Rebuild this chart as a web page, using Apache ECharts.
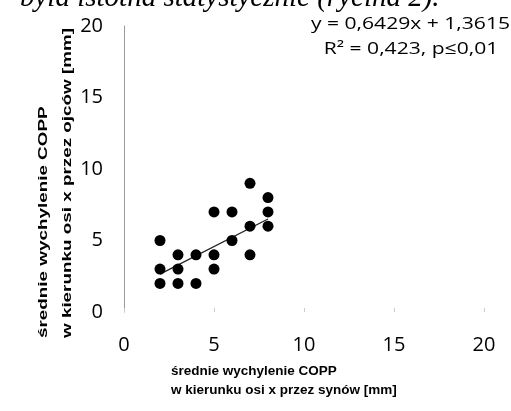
<!DOCTYPE html>
<html><head><meta charset="utf-8">
<script src="https://cdn.jsdelivr.net/npm/echarts@6/dist/echarts.min.js"></script>
<style>html,body{margin:0;padding:0;background:#fff}#c{width:511px;height:411px}</style>
</head><body><div id="c"></div>
<script>
const xTicks = [0, 5, 10, 15, 20];
const yTicks = [0, 5, 10, 15, 20];
const sonsX = [2, 2, 2, 3, 3, 3, 4, 4, 5, 5, 5, 6, 6, 7, 7, 7, 8, 8, 8];
const fathersY = [5, 3, 2, 4, 3, 2, 4, 2, 7, 4, 3, 7, 5, 9, 6, 4, 8, 7, 6];
const slope = 0.6429, intercept = 1.3615;
const trendX = [2, 8];
const eqText = 'y = 0,6429x + 1,3615';
const r2Text = 'R² = 0,423, p≤0,01';
const xTitle = ['średnie wychylenie COPP', 'w kierunku osi x przez synów [mm]'];
const yTitle = ['średnie wychylenie COPP', 'w kierunku osi x przez ojców [mm]'];
const headText = 'była istotna statystycznie (rycina 2).';

const pts = sonsX.map((x, i) => [x, fathersY[i]]);
const trend = trendX.map(x => [x, slope * x + intercept]);

const chart = echarts.init(document.getElementById('c'), null, {renderer: 'canvas'});
chart.setOption({
  animation: false,
  grid: {left: 124, right: 27, top: 26, bottom: 99},
  xAxis: {
    type: 'value', min: 0, max: 20, interval: 5,
    axisLine: {show: false},
    axisTick: {show: true, length: 4, inside: true, lineStyle: {color: '#ccc'}},
    splitLine: {show: false},
    axisLabel: {color: '#000', fontSize: 20, fontFamily: 'Open Sans', margin: 23}
  },
  yAxis: {
    type: 'value', min: 0, max: 20, interval: 5,
    axisLine: {show: true, lineStyle: {color: '#999', width: 1}},
    axisTick: {show: false},
    splitLine: {show: false},
    axisLabel: {color: '#000', fontSize: 20, fontFamily: 'Open Sans', margin: 21}
  },
  series: [
    {type: 'scatter', data: pts, symbol: 'circle', symbolSize: 11,
     itemStyle: {color: '#000', opacity: 1}, z: 3},
    {type: 'line', data: trend, symbol: 'none',
     lineStyle: {color: '#222', width: 1.3}, z: 2}
  ],
  graphic: [
    {type: 'text', x: 20, y: 13,
     style: {text: headText, font: 'italic 29px "Liberation Serif"', fill: '#000',
       align: 'left', verticalAlign: 'bottom'}},
    {type: 'text', x: 510, y: 24, scaleX: 1.24,
     style: {text: eqText, font: '17px "Open Sans"', fill: '#000', align: 'right', verticalAlign: 'middle'}},
    {type: 'text', x: 411, y: 49, scaleX: 1.24,
     style: {text: r2Text, font: '17px "Open Sans"', fill: '#000', align: 'center', verticalAlign: 'middle'}},
    {type: 'text', left: 171, top: 362,
     style: {text: xTitle.join('\n'), font: 'bold 13.5px "Liberation Sans"', fill: '#000', lineHeight: 19}},
    {type: 'text', x: 31, y: 338, rotation: Math.PI / 2, scaleX: 1.45,
     style: {text: yTitle.join('\n'), font: 'bold 13px "Liberation Sans"', fill: '#000', lineHeight: 24,
       align: 'left', verticalAlign: 'top'}}
  ]
});
</script></body></html>
